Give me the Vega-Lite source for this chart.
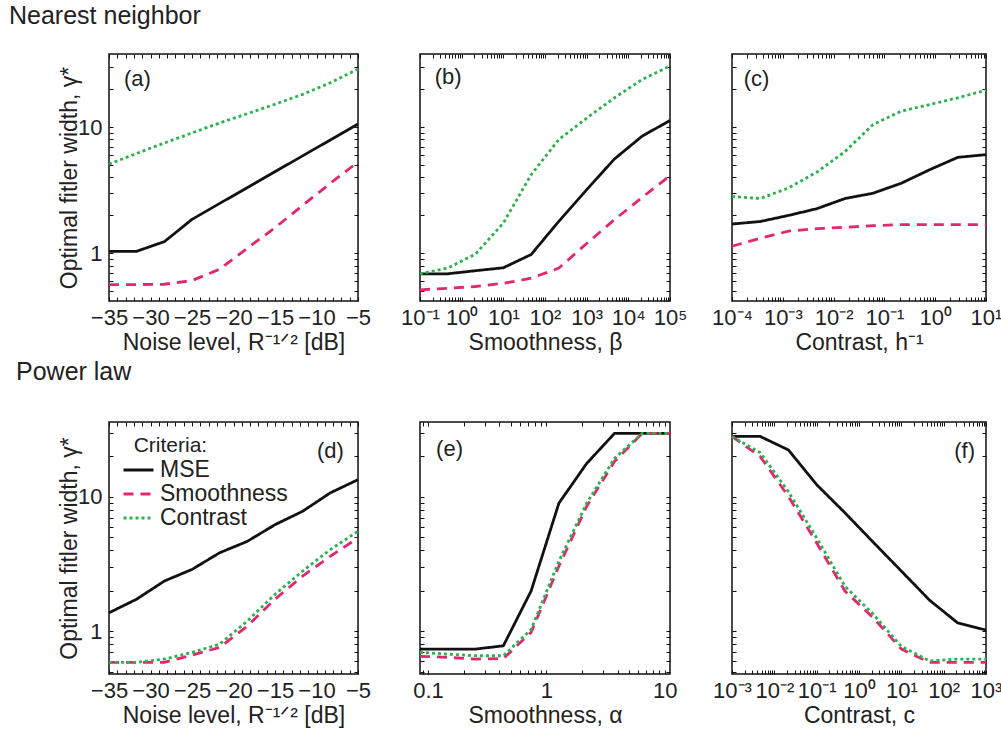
{
  "$schema": "https://vega.github.io/schema/vega-lite/v6.json",
  "background": "white",
  "padding": {"left": 8, "top": 2, "right": 5, "bottom": 5},
  "config": {
    "font": "Liberation Sans",
    "view": {"stroke": "#111", "strokeWidth": 1.5},
    "axis": {"grid": false, "domain": false, "tickColor": "#111", "tickSize": -4, "tickWidth": 1, "labelFontSize": 22, "labelColor": "#222", "titleFontSize": 23, "titleFontWeight": "normal", "titleColor": "#222", "labelOverlap": false, "labelFlush": false},
    "axisX": {"labelPadding": 10, "titlePadding": 3},
    "axisY": {"labelPadding": 11, "titlePadding": -4},
    "text": {"font": "Liberation Sans"}
  },
  "datasets": {
    "a": [
      {"x": -35, "gamma": 1.04, "criterion": "MSE"}, {"x": -31.67, "gamma": 1.04, "criterion": "MSE"}, {"x": -28.33, "gamma": 1.24, "criterion": "MSE"}, {"x": -25, "gamma": 1.86, "criterion": "MSE"}, {"x": -21.67, "gamma": 2.49, "criterion": "MSE"}, {"x": -18.33, "gamma": 3.32, "criterion": "MSE"}, {"x": -15, "gamma": 4.44, "criterion": "MSE"}, {"x": -11.67, "gamma": 5.93, "criterion": "MSE"}, {"x": -8.33, "gamma": 7.93, "criterion": "MSE"}, {"x": -5, "gamma": 10.6, "criterion": "MSE"},
      {"x": -35, "gamma": 0.567, "criterion": "Smoothness"}, {"x": -31.67, "gamma": 0.567, "criterion": "Smoothness"}, {"x": -28.33, "gamma": 0.57, "criterion": "Smoothness"}, {"x": -25, "gamma": 0.61, "criterion": "Smoothness"}, {"x": -21.67, "gamma": 0.75, "criterion": "Smoothness"}, {"x": -18.33, "gamma": 1.1, "criterion": "Smoothness"}, {"x": -15, "gamma": 1.6, "criterion": "Smoothness"}, {"x": -11.67, "gamma": 2.4, "criterion": "Smoothness"}, {"x": -8.33, "gamma": 3.6, "criterion": "Smoothness"}, {"x": -5, "gamma": 5.3, "criterion": "Smoothness"},
      {"x": -35, "gamma": 5.1, "criterion": "Contrast"}, {"x": -31.67, "gamma": 6.2, "criterion": "Contrast"}, {"x": -28.33, "gamma": 7.5, "criterion": "Contrast"}, {"x": -25, "gamma": 9.0, "criterion": "Contrast"}, {"x": -21.67, "gamma": 10.8, "criterion": "Contrast"}, {"x": -18.33, "gamma": 12.8, "criterion": "Contrast"}, {"x": -15, "gamma": 15.2, "criterion": "Contrast"}, {"x": -11.67, "gamma": 18.2, "criterion": "Contrast"}, {"x": -8.33, "gamma": 22.5, "criterion": "Contrast"}, {"x": -5, "gamma": 28.9, "criterion": "Contrast"}
    ],
    "b": [
      {"x": 0.1, "gamma": 0.69, "criterion": "MSE"}, {"x": 0.464, "gamma": 0.69, "criterion": "MSE"}, {"x": 2.154, "gamma": 0.73, "criterion": "MSE"}, {"x": 10, "gamma": 0.77, "criterion": "MSE"}, {"x": 46.42, "gamma": 0.98, "criterion": "MSE"}, {"x": 215.4, "gamma": 1.8, "criterion": "MSE"}, {"x": 1000, "gamma": 3.2, "criterion": "MSE"}, {"x": 4642, "gamma": 5.6, "criterion": "MSE"}, {"x": 21544, "gamma": 8.5, "criterion": "MSE"}, {"x": 100000, "gamma": 11.3, "criterion": "MSE"},
      {"x": 0.1, "gamma": 0.515, "criterion": "Smoothness"}, {"x": 0.464, "gamma": 0.53, "criterion": "Smoothness"}, {"x": 2.154, "gamma": 0.547, "criterion": "Smoothness"}, {"x": 10, "gamma": 0.58, "criterion": "Smoothness"}, {"x": 46.42, "gamma": 0.636, "criterion": "Smoothness"}, {"x": 215.4, "gamma": 0.765, "criterion": "Smoothness"}, {"x": 1000, "gamma": 1.2, "criterion": "Smoothness"}, {"x": 4642, "gamma": 1.85, "criterion": "Smoothness"}, {"x": 21544, "gamma": 2.78, "criterion": "Smoothness"}, {"x": 100000, "gamma": 4.13, "criterion": "Smoothness"},
      {"x": 0.1, "gamma": 0.69, "criterion": "Contrast"}, {"x": 0.464, "gamma": 0.765, "criterion": "Contrast"}, {"x": 2.154, "gamma": 0.99, "criterion": "Contrast"}, {"x": 10, "gamma": 1.74, "criterion": "Contrast"}, {"x": 46.42, "gamma": 4.2, "criterion": "Contrast"}, {"x": 215.4, "gamma": 8.0, "criterion": "Contrast"}, {"x": 1000, "gamma": 11.8, "criterion": "Contrast"}, {"x": 4642, "gamma": 17.1, "criterion": "Contrast"}, {"x": 21544, "gamma": 23.9, "criterion": "Contrast"}, {"x": 100000, "gamma": 30.5, "criterion": "Contrast"}
    ],
    "c": [
      {"x": 0.0001, "gamma": 1.71, "criterion": "MSE"}, {"x": 0.0003594, "gamma": 1.79, "criterion": "MSE"}, {"x": 0.001292, "gamma": 2.0, "criterion": "MSE"}, {"x": 0.004642, "gamma": 2.26, "criterion": "MSE"}, {"x": 0.01668, "gamma": 2.72, "criterion": "MSE"}, {"x": 0.05995, "gamma": 3.0, "criterion": "MSE"}, {"x": 0.2154, "gamma": 3.6, "criterion": "MSE"}, {"x": 0.7743, "gamma": 4.6, "criterion": "MSE"}, {"x": 2.783, "gamma": 5.77, "criterion": "MSE"}, {"x": 10, "gamma": 6.06, "criterion": "MSE"},
      {"x": 0.0001, "gamma": 1.14, "criterion": "Smoothness"}, {"x": 0.0003594, "gamma": 1.32, "criterion": "Smoothness"}, {"x": 0.001292, "gamma": 1.5, "criterion": "Smoothness"}, {"x": 0.004642, "gamma": 1.57, "criterion": "Smoothness"}, {"x": 0.01668, "gamma": 1.61, "criterion": "Smoothness"}, {"x": 0.05995, "gamma": 1.66, "criterion": "Smoothness"}, {"x": 0.2154, "gamma": 1.69, "criterion": "Smoothness"}, {"x": 0.7743, "gamma": 1.69, "criterion": "Smoothness"}, {"x": 2.783, "gamma": 1.69, "criterion": "Smoothness"}, {"x": 10, "gamma": 1.69, "criterion": "Smoothness"},
      {"x": 0.0001, "gamma": 2.83, "criterion": "Contrast"}, {"x": 0.0003594, "gamma": 2.72, "criterion": "Contrast"}, {"x": 0.001292, "gamma": 3.3, "criterion": "Contrast"}, {"x": 0.004642, "gamma": 4.4, "criterion": "Contrast"}, {"x": 0.01668, "gamma": 6.4, "criterion": "Contrast"}, {"x": 0.05995, "gamma": 10.5, "criterion": "Contrast"}, {"x": 0.2154, "gamma": 13.4, "criterion": "Contrast"}, {"x": 0.7743, "gamma": 15.1, "criterion": "Contrast"}, {"x": 2.783, "gamma": 17.1, "criterion": "Contrast"}, {"x": 10, "gamma": 19.6, "criterion": "Contrast"}
    ],
    "d": [
      {"x": -35, "gamma": 1.37, "criterion": "MSE"}, {"x": -31.67, "gamma": 1.73, "criterion": "MSE"}, {"x": -28.33, "gamma": 2.36, "criterion": "MSE"}, {"x": -25, "gamma": 2.88, "criterion": "MSE"}, {"x": -21.67, "gamma": 3.83, "criterion": "MSE"}, {"x": -18.33, "gamma": 4.66, "criterion": "MSE"}, {"x": -15, "gamma": 6.2, "criterion": "MSE"}, {"x": -11.67, "gamma": 7.8, "criterion": "MSE"}, {"x": -8.33, "gamma": 10.7, "criterion": "MSE"}, {"x": -5, "gamma": 13.4, "criterion": "MSE"},
      {"x": -35, "gamma": 0.586, "criterion": "Smoothness"}, {"x": -31.67, "gamma": 0.586, "criterion": "Smoothness"}, {"x": -28.33, "gamma": 0.586, "criterion": "Smoothness"}, {"x": -25, "gamma": 0.664, "criterion": "Smoothness"}, {"x": -21.67, "gamma": 0.757, "criterion": "Smoothness"}, {"x": -18.33, "gamma": 1.09, "criterion": "Smoothness"}, {"x": -15, "gamma": 1.73, "criterion": "Smoothness"}, {"x": -11.67, "gamma": 2.57, "criterion": "Smoothness"}, {"x": -8.33, "gamma": 3.61, "criterion": "Smoothness"}, {"x": -5, "gamma": 4.94, "criterion": "Smoothness"},
      {"x": -35, "gamma": 0.586, "criterion": "Contrast"}, {"x": -31.67, "gamma": 0.586, "criterion": "Contrast"}, {"x": -28.33, "gamma": 0.62, "criterion": "Contrast"}, {"x": -25, "gamma": 0.695, "criterion": "Contrast"}, {"x": -21.67, "gamma": 0.8, "criterion": "Contrast"}, {"x": -18.33, "gamma": 1.19, "criterion": "Contrast"}, {"x": -15, "gamma": 1.88, "criterion": "Contrast"}, {"x": -11.67, "gamma": 2.8, "criterion": "Contrast"}, {"x": -8.33, "gamma": 4.05, "criterion": "Contrast"}, {"x": -5, "gamma": 5.53, "criterion": "Contrast"}
    ],
    "e": [
      {"x": 0.0855, "gamma": 0.736, "criterion": "MSE"}, {"x": 0.1469, "gamma": 0.736, "criterion": "MSE"}, {"x": 0.2523, "gamma": 0.736, "criterion": "MSE"}, {"x": 0.433, "gamma": 0.778, "criterion": "MSE"}, {"x": 0.743, "gamma": 1.99, "criterion": "MSE"}, {"x": 1.277, "gamma": 8.97, "criterion": "MSE"}, {"x": 2.193, "gamma": 17.7, "criterion": "MSE"}, {"x": 3.764, "gamma": 29.6, "criterion": "MSE"}, {"x": 6.46, "gamma": 29.6, "criterion": "MSE"}, {"x": 11.09, "gamma": 29.6, "criterion": "MSE"},
      {"x": 0.0855, "gamma": 0.65, "criterion": "Smoothness"}, {"x": 0.1469, "gamma": 0.638, "criterion": "Smoothness"}, {"x": 0.2523, "gamma": 0.62, "criterion": "Smoothness"}, {"x": 0.433, "gamma": 0.625, "criterion": "Smoothness"}, {"x": 0.743, "gamma": 0.98, "criterion": "Smoothness"}, {"x": 1.277, "gamma": 3.05, "criterion": "Smoothness"}, {"x": 2.193, "gamma": 8.5, "criterion": "Smoothness"}, {"x": 3.764, "gamma": 18.3, "criterion": "Smoothness"}, {"x": 6.46, "gamma": 29.6, "criterion": "Smoothness"}, {"x": 11.09, "gamma": 29.6, "criterion": "Smoothness"},
      {"x": 0.0855, "gamma": 0.695, "criterion": "Contrast"}, {"x": 0.1469, "gamma": 0.675, "criterion": "Contrast"}, {"x": 0.2523, "gamma": 0.656, "criterion": "Contrast"}, {"x": 0.433, "gamma": 0.656, "criterion": "Contrast"}, {"x": 0.743, "gamma": 1.03, "criterion": "Contrast"}, {"x": 1.277, "gamma": 3.32, "criterion": "Contrast"}, {"x": 2.193, "gamma": 8.97, "criterion": "Contrast"}, {"x": 3.764, "gamma": 19.3, "criterion": "Contrast"}, {"x": 6.46, "gamma": 29.6, "criterion": "Contrast"}, {"x": 11.09, "gamma": 29.6, "criterion": "Contrast"}
    ],
    "f": [
      {"x": 0.001, "gamma": 28.1, "criterion": "MSE"}, {"x": 0.004642, "gamma": 28.1, "criterion": "MSE"}, {"x": 0.02154, "gamma": 22.3, "criterion": "MSE"}, {"x": 0.1, "gamma": 12.3, "criterion": "MSE"}, {"x": 0.4642, "gamma": 7.6, "criterion": "MSE"}, {"x": 2.154, "gamma": 4.6, "criterion": "MSE"}, {"x": 10, "gamma": 2.8, "criterion": "MSE"}, {"x": 46.42, "gamma": 1.7, "criterion": "MSE"}, {"x": 215.4, "gamma": 1.15, "criterion": "MSE"}, {"x": 1000, "gamma": 1.02, "criterion": "MSE"},
      {"x": 0.001, "gamma": 28.1, "criterion": "Smoothness"}, {"x": 0.004642, "gamma": 19.9, "criterion": "Smoothness"}, {"x": 0.02154, "gamma": 10.05, "criterion": "Smoothness"}, {"x": 0.1, "gamma": 4.53, "criterion": "Smoothness"}, {"x": 0.4642, "gamma": 1.99, "criterion": "Smoothness"}, {"x": 2.154, "gamma": 1.26, "criterion": "Smoothness"}, {"x": 10, "gamma": 0.736, "criterion": "Smoothness"}, {"x": 46.42, "gamma": 0.586, "criterion": "Smoothness"}, {"x": 215.4, "gamma": 0.586, "criterion": "Smoothness"}, {"x": 1000, "gamma": 0.586, "criterion": "Smoothness"},
      {"x": 0.001, "gamma": 28.1, "criterion": "Contrast"}, {"x": 0.004642, "gamma": 21.3, "criterion": "Contrast"}, {"x": 0.02154, "gamma": 10.9, "criterion": "Contrast"}, {"x": 0.1, "gamma": 4.94, "criterion": "Contrast"}, {"x": 0.4642, "gamma": 2.16, "criterion": "Contrast"}, {"x": 2.154, "gamma": 1.34, "criterion": "Contrast"}, {"x": 10, "gamma": 0.77, "criterion": "Contrast"}, {"x": 46.42, "gamma": 0.6, "criterion": "Contrast"}, {"x": 215.4, "gamma": 0.62, "criterion": "Contrast"}, {"x": 1000, "gamma": 0.62, "criterion": "Contrast"}
    ]
  },
  "columns": 3,
  "bounds": "flush",
  "spacing": {"row": 121, "column": 62},
  "resolve": {"legend": {"color": "independent", "strokeDash": "independent"}},
  "concat": [
    {
      "width": 249, "height": 247,
      "title": {"text": "Nearest neighbor", "anchor": "start", "frame": "group", "dx": -100, "offset": 5, "fontSize": 25, "fontWeight": "normal", "baseline": "alphabetic", "color": "#222"},
      "data": {"name": "a"},
      "layer": [
        {"mark": {"type": "line", "strokeWidth": 2.8},
         "encoding": {
           "x": {"field": "x", "type": "quantitative", "scale": {"domain": [-35, -5], "nice": false, "zero": false}, "axis": {"orient": "bottom", "values": [-35,-34,-33,-32,-31,-30,-29,-28,-27,-26,-25,-24,-23,-22,-21,-20,-19,-18,-17,-16,-15,-14,-13,-12,-11,-10,-9,-8,-7,-6,-5], "labelExpr": "datum.value % 5 == 0 ? datum.label : ''", "title": "Noise level, R⁻¹ᐟ² [dB]"}},
           "y": {"field": "gamma", "type": "quantitative", "scale": {"type": "log", "domain": [0.42, 38], "nice": false}, "axis": {"orient": "left", "values": [0.5,0.6,0.7,0.8,0.9,1,2,3,4,5,6,7,8,9,10,20,30], "labelExpr": "datum.value == 1 || datum.value == 10 ? datum.value + '' : ''", "title": "Optimal fitler width, γ*"}},
           "color": {"field": "criterion", "type": "nominal", "scale": {"domain": ["MSE", "Smoothness", "Contrast"], "range": ["#111111", "#e5266f", "#2bb24c"]}, "legend": null},
           "strokeDash": {"field": "criterion", "type": "nominal", "scale": {"domain": ["MSE", "Smoothness", "Contrast"], "range": [[1, 0], [10, 7], [3, 3]]}, "legend": null}
         }},
        {"mark": {"type": "point", "opacity": 0},
         "encoding": {
           "x": {"field": "x", "type": "quantitative", "scale": {"domain": [-35, -5], "nice": false, "zero": false}, "axis": {"orient": "top", "labels": false, "title": null, "values": [-35,-34,-33,-32,-31,-30,-29,-28,-27,-26,-25,-24,-23,-22,-21,-20,-19,-18,-17,-16,-15,-14,-13,-12,-11,-10,-9,-8,-7,-6,-5]}},
           "y": {"field": "gamma", "type": "quantitative", "scale": {"type": "log", "domain": [0.42, 38], "nice": false}, "axis": {"orient": "right", "labels": false, "title": null, "values": [0.5,0.6,0.7,0.8,0.9,1,2,3,4,5,6,7,8,9,10,20,30]}}
         }},
        {"data": {"values": [{"panel": "(a)"}]},
         "mark": {"type": "text", "fontSize": 22, "align": "left", "baseline": "middle", "color": "#222"},
         "encoding": {
           "text": {"field": "panel"},
           "x": {"datum": -33.2, "type": "quantitative", "axis": null},
           "y": {"datum": 24, "type": "quantitative", "axis": null}
         }}
      ],
      "resolve": {"axis": {"x": "independent", "y": "independent"}}
    },
    {
      "width": 250, "height": 247,
      "data": {"name": "b"},
      "layer": [
        {"mark": {"type": "line", "strokeWidth": 2.8},
         "encoding": {
           "x": {"field": "x", "type": "quantitative", "scale": {"type": "log", "domain": [0.1, 100000], "nice": false}, "axis": {"orient": "bottom", "values": [0.1,0.2,0.3,0.4,0.5,0.6,0.7,0.8,0.9,1,2,3,4,5,6,7,8,9,10,20,30,40,50,60,70,80,90,100,200,300,400,500,600,700,800,900,1000,2000,3000,4000,5000,6000,7000,8000,9000,10000,20000,30000,40000,50000,60000,70000,80000,90000,100000], "labelExpr": "abs(log(datum.value)/LN10 - round(log(datum.value)/LN10)) < 0.001 ? '10' + (datum.value < 1 ? '⁻' : '') + ['⁰','¹','²','³','⁴','⁵','⁶'][abs(round(log(datum.value)/LN10))] : ''", "title": "Smoothness, β"}},
           "y": {"field": "gamma", "type": "quantitative", "scale": {"type": "log", "domain": [0.42, 38], "nice": false}, "axis": {"orient": "left", "labels": false, "title": null, "values": [0.5,0.6,0.7,0.8,0.9,1,2,3,4,5,6,7,8,9,10,20,30]}},
           "color": {"field": "criterion", "type": "nominal", "scale": {"domain": ["MSE", "Smoothness", "Contrast"], "range": ["#111111", "#e5266f", "#2bb24c"]}, "legend": null},
           "strokeDash": {"field": "criterion", "type": "nominal", "scale": {"domain": ["MSE", "Smoothness", "Contrast"], "range": [[1, 0], [10, 7], [3, 3]]}, "legend": null}
         }},
        {"mark": {"type": "point", "opacity": 0},
         "encoding": {
           "x": {"field": "x", "type": "quantitative", "scale": {"type": "log", "domain": [0.1, 100000], "nice": false}, "axis": {"orient": "top", "labels": false, "title": null, "values": [0.1,0.2,0.3,0.4,0.5,0.6,0.7,0.8,0.9,1,2,3,4,5,6,7,8,9,10,20,30,40,50,60,70,80,90,100,200,300,400,500,600,700,800,900,1000,2000,3000,4000,5000,6000,7000,8000,9000,10000,20000,30000,40000,50000,60000,70000,80000,90000,100000]}},
           "y": {"field": "gamma", "type": "quantitative", "scale": {"type": "log", "domain": [0.42, 38], "nice": false}, "axis": {"orient": "right", "labels": false, "title": null, "values": [0.5,0.6,0.7,0.8,0.9,1,2,3,4,5,6,7,8,9,10,20,30]}}
         }},
        {"data": {"values": [{"panel": "(b)"}]},
         "mark": {"type": "text", "fontSize": 22, "align": "left", "baseline": "middle", "color": "#222"},
         "encoding": {
           "text": {"field": "panel"},
           "x": {"datum": 0.226, "type": "quantitative", "axis": null},
           "y": {"datum": 24.9, "type": "quantitative", "axis": null}
         }}
      ],
      "resolve": {"axis": {"x": "independent", "y": "independent"}}
    },
    {
      "width": 254, "height": 247,
      "data": {"name": "c"},
      "layer": [
        {"mark": {"type": "line", "strokeWidth": 2.8},
         "encoding": {
           "x": {"field": "x", "type": "quantitative", "scale": {"type": "log", "domain": [0.0001, 10], "nice": false}, "axis": {"orient": "bottom", "values": [0.0001,0.0002,0.0003,0.0004,0.0005,0.0006,0.0007,0.0008,0.0009,0.001,0.002,0.003,0.004,0.005,0.006,0.007,0.008,0.009,0.01,0.02,0.03,0.04,0.05,0.06,0.07,0.08,0.09,0.1,0.2,0.3,0.4,0.5,0.6,0.7,0.8,0.9,1,2,3,4,5,6,7,8,9,10], "labelExpr": "abs(log(datum.value)/LN10 - round(log(datum.value)/LN10)) < 0.001 ? '10' + (datum.value < 1 ? '⁻' : '') + ['⁰','¹','²','³','⁴','⁵','⁶'][abs(round(log(datum.value)/LN10))] : ''", "title": "Contrast, h⁻¹"}},
           "y": {"field": "gamma", "type": "quantitative", "scale": {"type": "log", "domain": [0.42, 38], "nice": false}, "axis": {"orient": "left", "labels": false, "title": null, "values": [0.5,0.6,0.7,0.8,0.9,1,2,3,4,5,6,7,8,9,10,20,30]}},
           "color": {"field": "criterion", "type": "nominal", "scale": {"domain": ["MSE", "Smoothness", "Contrast"], "range": ["#111111", "#e5266f", "#2bb24c"]}, "legend": null},
           "strokeDash": {"field": "criterion", "type": "nominal", "scale": {"domain": ["MSE", "Smoothness", "Contrast"], "range": [[1, 0], [10, 7], [3, 3]]}, "legend": null}
         }},
        {"mark": {"type": "point", "opacity": 0},
         "encoding": {
           "x": {"field": "x", "type": "quantitative", "scale": {"type": "log", "domain": [0.0001, 10], "nice": false}, "axis": {"orient": "top", "labels": false, "title": null, "values": [0.0001,0.0002,0.0003,0.0004,0.0005,0.0006,0.0007,0.0008,0.0009,0.001,0.002,0.003,0.004,0.005,0.006,0.007,0.008,0.009,0.01,0.02,0.03,0.04,0.05,0.06,0.07,0.08,0.09,0.1,0.2,0.3,0.4,0.5,0.6,0.7,0.8,0.9,1,2,3,4,5,6,7,8,9,10]}},
           "y": {"field": "gamma", "type": "quantitative", "scale": {"type": "log", "domain": [0.42, 38], "nice": false}, "axis": {"orient": "right", "labels": false, "title": null, "values": [0.5,0.6,0.7,0.8,0.9,1,2,3,4,5,6,7,8,9,10,20,30]}}
         }},
        {"data": {"values": [{"panel": "(c)"}]},
         "mark": {"type": "text", "fontSize": 22, "align": "left", "baseline": "middle", "color": "#222"},
         "encoding": {
           "text": {"field": "panel"},
           "x": {"datum": 0.00017, "type": "quantitative", "axis": null},
           "y": {"datum": 24.3, "type": "quantitative", "axis": null}
         }}
      ],
      "resolve": {"axis": {"x": "independent", "y": "independent"}}
    },
    {
      "width": 249, "height": 252,
      "title": {"text": "Power law", "anchor": "start", "frame": "group", "dx": -93, "offset": 17, "fontSize": 25, "fontWeight": "normal", "baseline": "alphabetic", "color": "#222"},
      "data": {"name": "d"},
      "layer": [
        {"mark": {"type": "line", "strokeWidth": 2.8},
         "encoding": {
           "x": {"field": "x", "type": "quantitative", "scale": {"domain": [-35, -5], "nice": false, "zero": false}, "axis": {"orient": "bottom", "values": [-35,-34,-33,-32,-31,-30,-29,-28,-27,-26,-25,-24,-23,-22,-21,-20,-19,-18,-17,-16,-15,-14,-13,-12,-11,-10,-9,-8,-7,-6,-5], "labelExpr": "datum.value % 5 == 0 ? datum.label : ''", "title": "Noise level, R⁻¹ᐟ² [dB]"}},
           "y": {"field": "gamma", "type": "quantitative", "scale": {"type": "log", "domain": [0.48, 36], "nice": false}, "axis": {"orient": "left", "values": [0.5,0.6,0.7,0.8,0.9,1,2,3,4,5,6,7,8,9,10,20,30], "labelExpr": "datum.value == 1 || datum.value == 10 ? datum.value + '' : ''", "title": "Optimal fitler width, γ*"}},
           "color": {"field": "criterion", "type": "nominal", "scale": {"domain": ["MSE", "Smoothness", "Contrast"], "range": ["#111111", "#e5266f", "#2bb24c"]},
             "legend": {"orient": "top-left", "offset": 13, "padding": 0, "title": "\u200b\u00a0\u00a0Criteria:", "titleFontSize": 21, "titleFontWeight": "normal", "titleColor": "#222", "titlePadding": 2, "labelFontSize": 23, "labelColor": "#222", "symbolType": "stroke", "symbolSize": 900, "symbolStrokeWidth": 2.8, "clipHeight": 24, "rowPadding": 0, "labelOffset": 5}},
           "strokeDash": {"field": "criterion", "type": "nominal", "scale": {"domain": ["MSE", "Smoothness", "Contrast"], "range": [[1, 0], [10, 7], [3, 3]]},
             "legend": {"orient": "top-left", "offset": 13, "padding": 0, "title": "\u200b\u00a0\u00a0Criteria:", "titleFontSize": 21, "titleFontWeight": "normal", "titleColor": "#222", "titlePadding": 2, "labelFontSize": 23, "labelColor": "#222", "symbolType": "stroke", "symbolSize": 900, "symbolStrokeWidth": 2.8, "clipHeight": 24, "rowPadding": 0, "labelOffset": 5}}
         }},
        {"mark": {"type": "point", "opacity": 0},
         "encoding": {
           "x": {"field": "x", "type": "quantitative", "scale": {"domain": [-35, -5], "nice": false, "zero": false}, "axis": {"orient": "top", "labels": false, "title": null, "values": [-35,-34,-33,-32,-31,-30,-29,-28,-27,-26,-25,-24,-23,-22,-21,-20,-19,-18,-17,-16,-15,-14,-13,-12,-11,-10,-9,-8,-7,-6,-5]}},
           "y": {"field": "gamma", "type": "quantitative", "scale": {"type": "log", "domain": [0.48, 36], "nice": false}, "axis": {"orient": "right", "labels": false, "title": null, "values": [0.5,0.6,0.7,0.8,0.9,1,2,3,4,5,6,7,8,9,10,20,30]}}
         }},
        {"data": {"values": [{"panel": "(d)"}]},
         "mark": {"type": "text", "fontSize": 22, "align": "right", "baseline": "middle", "color": "#222"},
         "encoding": {
           "text": {"field": "panel"},
           "x": {"datum": -6.7, "type": "quantitative", "axis": null},
           "y": {"datum": 21.9, "type": "quantitative", "axis": null}
         }}
      ],
      "resolve": {"axis": {"x": "independent", "y": "independent"}}
    },
    {
      "width": 250, "height": 252,
      "data": {"name": "e"},
      "layer": [
        {"mark": {"type": "line", "strokeWidth": 2.8},
         "encoding": {
           "x": {"field": "x", "type": "quantitative", "scale": {"type": "log", "domain": [0.0855, 11.09], "nice": false}, "axis": {"orient": "bottom", "values": [0.09,0.1,0.2,0.3,0.4,0.5,0.6,0.7,0.8,0.9,1,2,3,4,5,6,7,8,9,10], "labelExpr": "datum.value == 0.1 || datum.value == 1 || datum.value == 10 ? datum.value + '' : ''", "title": "Smoothness, α"}},
           "y": {"field": "gamma", "type": "quantitative", "scale": {"type": "log", "domain": [0.48, 36], "nice": false}, "axis": {"orient": "left", "labels": false, "title": null, "values": [0.5,0.6,0.7,0.8,0.9,1,2,3,4,5,6,7,8,9,10,20,30]}},
           "color": {"field": "criterion", "type": "nominal", "scale": {"domain": ["MSE", "Smoothness", "Contrast"], "range": ["#111111", "#e5266f", "#2bb24c"]}, "legend": null},
           "strokeDash": {"field": "criterion", "type": "nominal", "scale": {"domain": ["MSE", "Smoothness", "Contrast"], "range": [[1, 0], [10, 7], [3, 3]]}, "legend": null}
         }},
        {"mark": {"type": "point", "opacity": 0},
         "encoding": {
           "x": {"field": "x", "type": "quantitative", "scale": {"type": "log", "domain": [0.0855, 11.09], "nice": false}, "axis": {"orient": "top", "labels": false, "title": null, "values": [0.09,0.1,0.2,0.3,0.4,0.5,0.6,0.7,0.8,0.9,1,2,3,4,5,6,7,8,9,10]}},
           "y": {"field": "gamma", "type": "quantitative", "scale": {"type": "log", "domain": [0.48, 36], "nice": false}, "axis": {"orient": "right", "labels": false, "title": null, "values": [0.5,0.6,0.7,0.8,0.9,1,2,3,4,5,6,7,8,9,10,20,30]}}
         }},
        {"data": {"values": [{"panel": "(e)"}]},
         "mark": {"type": "text", "fontSize": 22, "align": "left", "baseline": "middle", "color": "#222"},
         "encoding": {
           "text": {"field": "panel"},
           "x": {"datum": 0.117, "type": "quantitative", "axis": null},
           "y": {"datum": 22.7, "type": "quantitative", "axis": null}
         }}
      ],
      "resolve": {"axis": {"x": "independent", "y": "independent"}}
    },
    {
      "width": 254, "height": 252,
      "data": {"name": "f"},
      "layer": [
        {"mark": {"type": "line", "strokeWidth": 2.8},
         "encoding": {
           "x": {"field": "x", "type": "quantitative", "scale": {"type": "log", "domain": [0.001, 1000], "nice": false}, "axis": {"orient": "bottom", "values": [0.001,0.002,0.003,0.004,0.005,0.006,0.007,0.008,0.009,0.01,0.02,0.03,0.04,0.05,0.06,0.07,0.08,0.09,0.1,0.2,0.3,0.4,0.5,0.6,0.7,0.8,0.9,1,2,3,4,5,6,7,8,9,10,20,30,40,50,60,70,80,90,100,200,300,400,500,600,700,800,900,1000], "labelExpr": "abs(log(datum.value)/LN10 - round(log(datum.value)/LN10)) < 0.001 ? '10' + (datum.value < 1 ? '⁻' : '') + ['⁰','¹','²','³','⁴','⁵','⁶'][abs(round(log(datum.value)/LN10))] : ''", "title": "Contrast, c"}},
           "y": {"field": "gamma", "type": "quantitative", "scale": {"type": "log", "domain": [0.48, 36], "nice": false}, "axis": {"orient": "left", "labels": false, "title": null, "values": [0.5,0.6,0.7,0.8,0.9,1,2,3,4,5,6,7,8,9,10,20,30]}},
           "color": {"field": "criterion", "type": "nominal", "scale": {"domain": ["MSE", "Smoothness", "Contrast"], "range": ["#111111", "#e5266f", "#2bb24c"]}, "legend": null},
           "strokeDash": {"field": "criterion", "type": "nominal", "scale": {"domain": ["MSE", "Smoothness", "Contrast"], "range": [[1, 0], [10, 7], [3, 3]]}, "legend": null}
         }},
        {"mark": {"type": "point", "opacity": 0},
         "encoding": {
           "x": {"field": "x", "type": "quantitative", "scale": {"type": "log", "domain": [0.001, 1000], "nice": false}, "axis": {"orient": "top", "labels": false, "title": null, "values": [0.001,0.002,0.003,0.004,0.005,0.006,0.007,0.008,0.009,0.01,0.02,0.03,0.04,0.05,0.06,0.07,0.08,0.09,0.1,0.2,0.3,0.4,0.5,0.6,0.7,0.8,0.9,1,2,3,4,5,6,7,8,9,10,20,30,40,50,60,70,80,90,100,200,300,400,500,600,700,800,900,1000]}},
           "y": {"field": "gamma", "type": "quantitative", "scale": {"type": "log", "domain": [0.48, 36], "nice": false}, "axis": {"orient": "right", "labels": false, "title": null, "values": [0.5,0.6,0.7,0.8,0.9,1,2,3,4,5,6,7,8,9,10,20,30]}}
         }},
        {"data": {"values": [{"panel": "(f)"}]},
         "mark": {"type": "text", "fontSize": 22, "align": "right", "baseline": "middle", "color": "#222"},
         "encoding": {
           "text": {"field": "panel"},
           "x": {"datum": 550, "type": "quantitative", "axis": null},
           "y": {"datum": 21.9, "type": "quantitative", "axis": null}
         }}
      ],
      "resolve": {"axis": {"x": "independent", "y": "independent"}}
    }
  ]
}
